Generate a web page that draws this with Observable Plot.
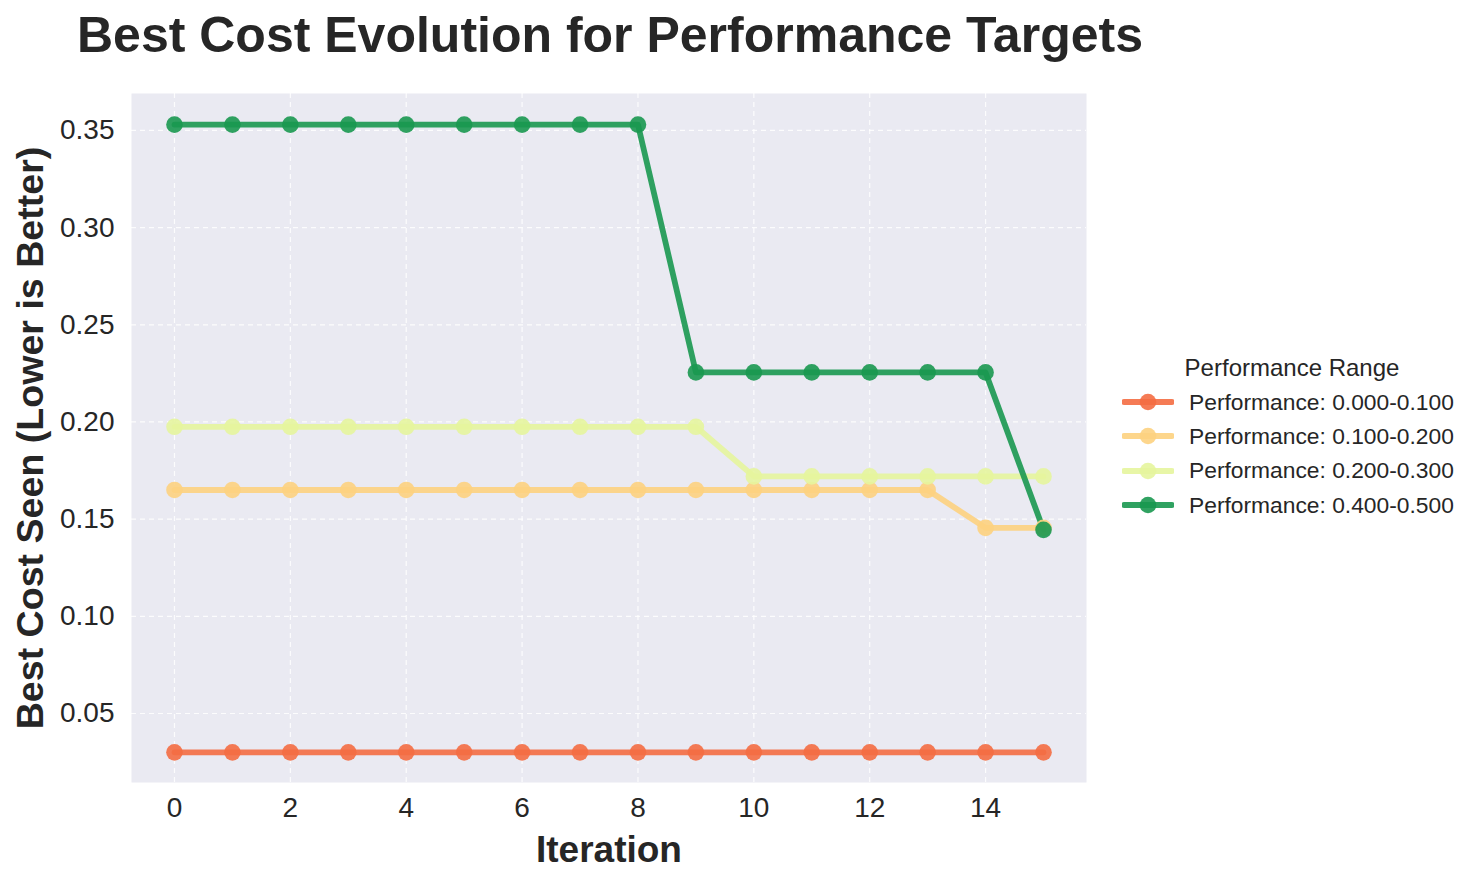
<!DOCTYPE html>
<html>
<head>
<meta charset="utf-8">
<script src="https://cdn.jsdelivr.net/npm/d3@7"></script>
<script src="https://cdn.jsdelivr.net/npm/@observablehq/plot@0.6"></script>
<style>
  html, body { margin: 0; padding: 0; background: #ffffff; }
  body { width: 1480px; height: 885px; position: relative; overflow: hidden; font-family: "Liberation Sans", Arial, sans-serif; color: #262626; }
  #title { position: absolute; left: 77px; top: 6px; font-size: 50px; line-height: 58px; font-weight: bold; white-space: nowrap; }
  #chart { position: absolute; left: 0; top: 75px; }
  #legend { position: absolute; left: 1116px; top: 352px; font-size: 22.8px; }
  #legend .lt { font-size: 24px; text-align: center; width: 352px; margin-bottom: 1px; line-height: 32px; }
  #legend .row { display: flex; align-items: center; height: 34.3px; }
  #legend .row svg { margin-right: 15px; margin-left: 6px; }
</style>
</head>
<body>
<div id="title">Best Cost Evolution for Performance Targets</div>
<div id="chart"></div>
<div id="legend"></div>
<script>
const iterations = [0,1,2,3,4,5,6,7,8,9,10,11,12,13,14,15];
const seriesNames = [
  "Performance: 0.000-0.100",
  "Performance: 0.100-0.200",
  "Performance: 0.200-0.300",
  "Performance: 0.400-0.500"
];
const seriesColors = ["#f46d43", "#fdd27f", "#e6f59d", "#1a9850"];
const cost_000_100 = [0.030,0.030,0.030,0.030,0.030,0.030,0.030,0.030,0.030,0.030,0.030,0.030,0.030,0.030,0.030,0.030];
const cost_100_200 = [0.165,0.165,0.165,0.165,0.165,0.165,0.165,0.165,0.165,0.165,0.165,0.165,0.165,0.165,0.1455,0.1455];
const cost_200_300 = [0.1975,0.1975,0.1975,0.1975,0.1975,0.1975,0.1975,0.1975,0.1975,0.1975,0.172,0.172,0.172,0.172,0.172,0.172];
const cost_400_500 = [0.353,0.353,0.353,0.353,0.353,0.353,0.353,0.353,0.353,0.2255,0.2255,0.2255,0.2255,0.2255,0.2255,0.1445];
const xTicks = [0,2,4,6,8,10,12,14];
const yTicks = [0.05,0.10,0.15,0.20,0.25,0.30,0.35];

const allSeries = [cost_000_100, cost_100_200, cost_200_300, cost_400_500];
const rows = [];
allSeries.forEach((vals, si) => {
  vals.forEach((v, i) => rows.push({series: seriesNames[si], iteration: iterations[i], cost: v}));
});

const plot = Plot.plot({
  width: 1090,
  height: 810,
  marginTop: 18,
  marginBottom: 103,
  marginLeft: 131,
  marginRight: 4,
  style: {fontFamily: "Liberation Sans, Arial, sans-serif", fontSize: "28px", color: "#262626", background: "transparent", overflow: "visible"},
  x: {domain: [-0.742, 15.742]},
  y: {domain: [0.0145, 0.369]},
  color: {domain: seriesNames, range: seriesColors},
  marks: [
    Plot.frame({fill: "#eaeaf2", stroke: null}),
    Plot.gridX(xTicks, {stroke: "#ffffff", strokeOpacity: 0.85, strokeWidth: 1.2, strokeDasharray: "5,4"}),
    Plot.gridY(yTicks, {stroke: "#ffffff", strokeOpacity: 0.85, strokeWidth: 1.2, strokeDasharray: "5,4"}),
    Plot.axisX({ticks: xTicks, tickSize: 0, tickPadding: 15, fontSize: 28, label: null, tickFormat: d => String(d)}),
    Plot.axisY({ticks: yTicks, tickSize: 0, tickPadding: 17, fontSize: 28, label: null, tickFormat: d3.format(".2f")}),
    Plot.line(rows, {x: "iteration", y: "cost", z: "series", stroke: "series", strokeWidth: 5.8, strokeOpacity: 0.9}),
    Plot.dot(rows, {x: "iteration", y: "cost", fill: "series", r: 8.3, stroke: null, fillOpacity: 0.9}),
    Plot.text(["Iteration"], {frameAnchor: "bottom", lineAnchor: "middle", dy: 68, text: d => d, fontSize: 37, fontWeight: "bold", fill: "#262626"}),
    Plot.text(["Best Cost Seen (Lower is Better)"], {frameAnchor: "left", textAnchor: "middle", lineAnchor: "middle", dx: -101, rotate: -90, text: d => d, fontSize: 37.6, fontWeight: "bold", fill: "#262626"})
  ]
});
document.getElementById("chart").appendChild(plot);

const legend = document.getElementById("legend");
const lt = document.createElement("div");
lt.className = "lt";
lt.textContent = "Performance Range";
legend.appendChild(lt);
seriesNames.forEach((name, i) => {
  const row = document.createElement("div");
  row.className = "row";
  row.innerHTML = `<svg width="52" height="20"><line x1="2" y1="10" x2="50" y2="10" stroke="${seriesColors[i]}" stroke-width="5.8" stroke-opacity="0.9" stroke-linecap="round"/><circle cx="26" cy="10" r="8.3" fill="${seriesColors[i]}" fill-opacity="0.9"/></svg><span>${name}</span>`;
  legend.appendChild(row);
});
</script>
</body>
</html>
